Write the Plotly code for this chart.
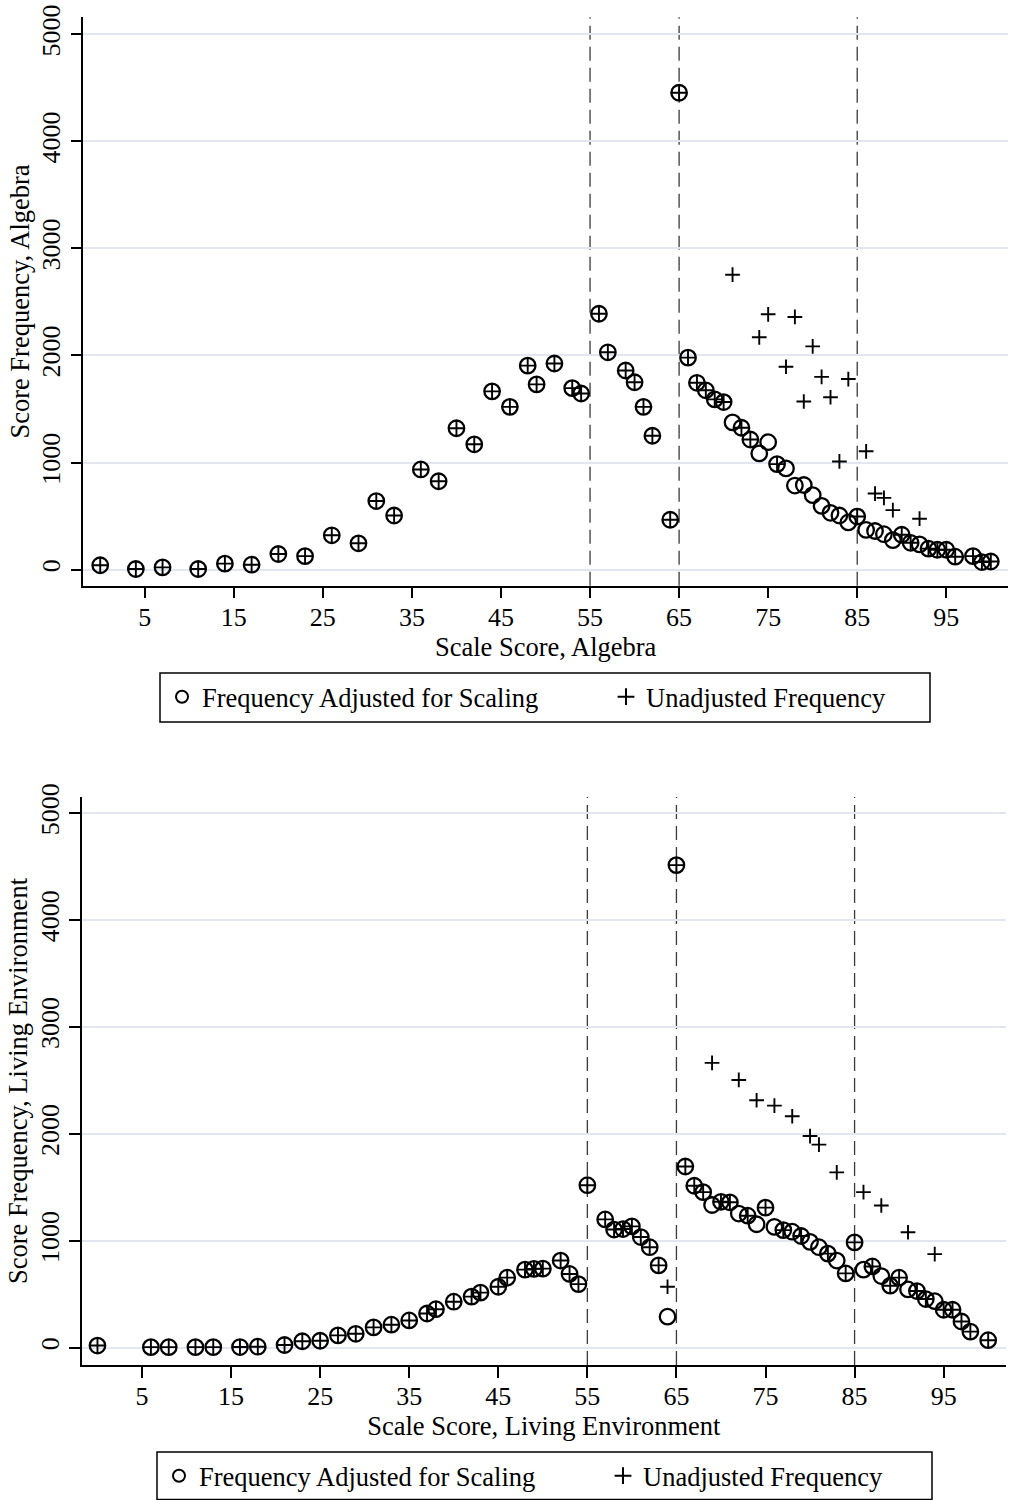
import plotly.graph_objects as go

# ---------------- Data: Algebra ----------------
alg_score = [0, 4, 7, 11, 14, 17, 20, 23, 26, 29, 31, 33, 36, 38, 40, 42, 44, 46, 48, 49,
             51, 53, 54, 56, 57, 59, 60, 61, 62, 64, 65, 66, 67, 68, 69, 70, 71, 72, 73, 74,
             75, 76, 77, 78, 79, 80, 81, 82, 83, 84, 85, 86, 87, 88, 89, 90, 91, 92, 93, 94,
             95, 96, 98, 99, 100]
alg_adjusted = [40, 5, 20, 5, 55, 45, 145, 125, 320, 245, 640, 505, 935, 825, 1320, 1170, 1665, 1520, 1905, 1730,
                1925, 1695, 1645, 2390, 2030, 1860, 1750, 1520, 1250, 465, 4455, 1980, 1745, 1675, 1590, 1565, 1375, 1325, 1215, 1085,
                1190, 985, 945, 785, 790, 695, 595, 530, 505, 440, 495, 370, 360, 330, 275, 325, 250, 235, 195, 185,
                185, 120, 125, 70, 75]
alg_unadjusted = [40, 5, 20, 5, 55, 45, 145, 125, 320, 245, 640, 505, 935, 825, 1320, 1170, 1665, 1520, 1905, 1730,
                  1925, 1695, 1645, 2390, 2030, 1860, 1750, 1520, 1250, 465, 4455, 1980, 1745, 1675, 1590, 1565, 2755, 1325, 1215, 2170,
                  2385, 985, 1895, 2360, 1570, 2085, 1800, 1610, 1010, 1780, 495, 1105, 710, 670, 555, 325, 250, 475, 195, 185,
                  185, 120, 125, 70, 75]

# ---------------- Data: Living Environment ----------------
le_score = [0, 6, 8, 11, 13, 16, 18, 21, 23, 25, 27, 29, 31, 33, 35, 37, 38, 40, 42, 43,
            45, 46, 48, 49, 50, 52, 53, 54, 55, 57, 58, 59, 60, 61, 62, 63, 64, 65, 66, 67,
            68, 69, 70, 71, 72, 73, 74, 75, 76, 77, 78, 79, 80, 81, 82, 83, 84, 85, 86, 87,
            88, 89, 90, 91, 92, 93, 94, 95, 96, 97, 98, 100]
le_adjusted = [20, 5, 5, 5, 5, 6, 9, 25, 60, 65, 115, 130, 190, 215, 255, 320, 360, 430, 478, 515,
               570, 655, 730, 737, 740, 815, 690, 595, 1520, 1200, 1105, 1110, 1135, 1035, 940, 770, 290, 4515, 1695, 1515,
               1455, 1335, 1365, 1360, 1255, 1235, 1155, 1310, 1130, 1100, 1085, 1045, 990, 940, 880, 815, 695, 985, 730, 760,
               670, 580, 655, 545, 530, 455, 435, 355, 355, 245, 150, 70]
le_unadjusted = [20, 5, 5, 5, 5, 6, 9, 25, 60, 65, 115, 130, 190, 215, 255, 320, 360, 430, 478, 515,
                 570, 655, 730, 737, 740, 815, 690, 595, 1520, 1200, 1105, 1110, 1135, 1035, 940, 770, 570, 4515, 1695, 1515,
                 1455, 2665, 1365, 1360, 2505, 1235, 2315, 1310, 2265, 1100, 2165, 1045, 1980, 1900, 880, 1640, 695, 985, 1455, 760,
                 1330, 580, 655, 1080, 530, 455, 875, 355, 355, 245, 150, 70]

x_tickvals = [5, 15, 25, 35, 45, 55, 65, 75, 85, 95]
y_tickvals = [0, 1000, 2000, 3000, 4000, 5000]
cut_scores = [55, 65, 85]

series_names = ["Frequency Adjusted for Scaling", "Unadjusted Frequency"]

FONT = "Liberation Serif, Times New Roman, serif"
W, H = 1021, 1500

fig = go.Figure()

circle_marker = dict(symbol="circle-open", size=15.5, color="black", line=dict(width=2.3, color="black"))
plus_marker = dict(symbol="cross-thin-open", size=10.5, color="black", line=dict(width=1.9, color="black"))

# top chart
fig.add_trace(go.Scatter(x=alg_score, y=alg_adjusted, mode="markers", name=series_names[0],
                         marker=circle_marker, xaxis="x", yaxis="y", legend="legend"))
fig.add_trace(go.Scatter(x=alg_score, y=alg_unadjusted, mode="markers", name=series_names[1],
                         marker=plus_marker, xaxis="x", yaxis="y", legend="legend2"))
# bottom chart
fig.add_trace(go.Scatter(x=le_score, y=le_adjusted, mode="markers", name=series_names[0],
                         marker=circle_marker, xaxis="x2", yaxis="y2", legend="legend3"))
fig.add_trace(go.Scatter(x=le_score, y=le_unadjusted, mode="markers", name=series_names[1],
                         marker=plus_marker, xaxis="x2", yaxis="y2", legend="legend4"))

def xaxis_cfg(dom, rng, title, anchor):
    return dict(domain=dom, range=rng, anchor=anchor, tickvals=x_tickvals,
                showline=True, linecolor="black", linewidth=1.5, mirror=False,
                ticks="outside", ticklen=11, tickwidth=1.5, tickcolor="black",
                ticklabelstandoff=-4,
                showgrid=False, zeroline=False, automargin=False,
                tickfont=dict(family=FONT, size=26, color="black"),
                title=dict(text=title, font=dict(family=FONT, size=26.5, color="black"), standoff=0))

def yaxis_cfg(dom, rng, title, anchor):
    return dict(domain=dom, range=rng, anchor=anchor, tickvals=y_tickvals, tickangle=-90,
                showline=True, linecolor="black", linewidth=1.5, mirror=False,
                ticks="outside", ticklen=11, tickwidth=1.5, tickcolor="black",
                showgrid=True, gridcolor="#e1e6f0", gridwidth=1.8, zeroline=False, automargin=False,
                tickfont=dict(family=FONT, size=26, color="black"),
                title=dict(text=title, font=dict(family=FONT, size=26.5, color="black"), standoff=0))

top_x_dom = [83.3 / W, 1008 / W]
top_y_dom = [(H - 585.7) / H, (H - 17.3) / H]
bot_x_dom = [81.7 / W, 1006 / W]
bot_y_dom = [(H - 1365) / H, (H - 797) / H]

shapes = []
for xa, ya in (("x", "y"), ("x2", "y2")):
    for c in cut_scores:
        shapes.append(dict(type="line", xref=xa, yref=ya + " domain", x0=c, x1=c, y0=0, y1=1,
                           line=dict(color="#3a3a3a", width=1.3, dash="14px,7px"), layer="below"))

# legend frames
shapes.append(dict(type="rect", xref="paper", yref="paper",
                   x0=160 / W, x1=930 / W, y0=(H - 722) / H, y1=(H - 673) / H,
                   line=dict(color="black", width=1.5), fillcolor="rgba(0,0,0,0)"))
shapes.append(dict(type="rect", xref="paper", yref="paper",
                   x0=157 / W, x1=932 / W, y0=0.6 / H, y1=(H - 1452) / H,
                   line=dict(color="black", width=1.5), fillcolor="rgba(0,0,0,0)"))

legend_common = dict(orientation="h", xanchor="left", yanchor="middle", itemsizing="constant",
                     bgcolor="rgba(0,0,0,0)", borderwidth=0,
                     font=dict(family=FONT, size=26.5, color="black"))

fig.update_layout(
    width=W, height=H,
    margin=dict(l=0, r=0, t=0, b=0),
    paper_bgcolor="white", plot_bgcolor="white",
    xaxis=xaxis_cfg(top_x_dom, [-1.9, 101.93], "Scale Score, Algebra", "y"),
    yaxis=yaxis_cfg(top_y_dom, [-151, 5160], "Score Frequency, Algebra", "x"),
    xaxis2=xaxis_cfg(bot_x_dom, [-1.77, 102.0], "Scale Score, Living Environment", "y2"),
    yaxis2=yaxis_cfg(bot_y_dom, [-162, 5152], "Score Frequency, Living Environment", "x2"),
    legend=dict(x=162 / W, y=(H - 697) / H, **legend_common),
    legend2=dict(x=606 / W, y=(H - 697) / H, **legend_common),
    legend3=dict(x=159 / W, y=(H - 1476) / H, **legend_common),
    legend4=dict(x=603 / W, y=(H - 1476) / H, **legend_common),
    shapes=shapes,
    showlegend=True,
)

fig.write_html("out.html", config={"displayModeBar": False},
               post_script="document.body.style.margin='0px';")
